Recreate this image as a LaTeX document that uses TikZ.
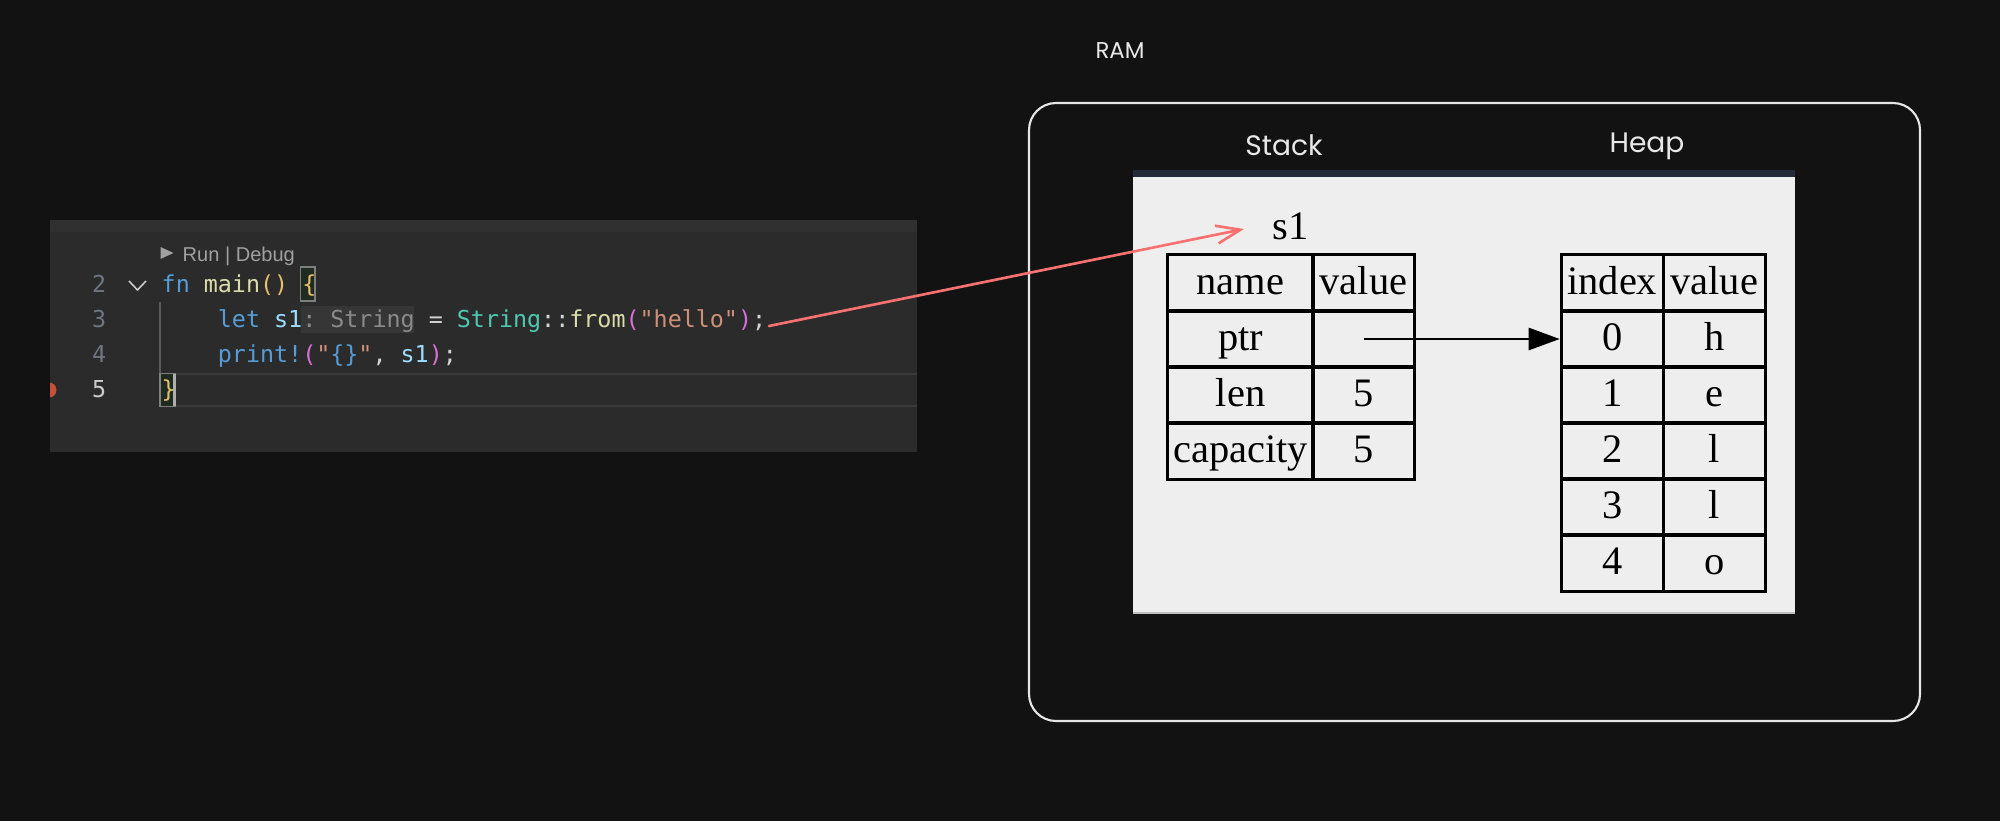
\documentclass[tikz,border=0pt]{standalone}
\usepackage{fontspec}
\setmainfont{Liberation Serif}
\newfontfamily\codefont{DejaVu Sans Mono}
\newfontfamily\uifont{Liberation Sans}
\newfontfamily\handfont{Poppins}
\usetikzlibrary{arrows.meta}
\definecolor{bg}{HTML}{121212}
\definecolor{panel}{HTML}{2B2B2B}
\definecolor{panelstrip}{HTML}{303030}
\definecolor{kw}{HTML}{569CD6}
\definecolor{fnc}{HTML}{DCDCAA}
\definecolor{brone}{HTML}{E6C06A}
\definecolor{brtwo}{HTML}{DA70D6}
\definecolor{var}{HTML}{9CDCFE}
\definecolor{hint}{HTML}{8A8A8A}
\definecolor{hintbg}{HTML}{363636}
\definecolor{op}{HTML}{D4D4D4}
\definecolor{ty}{HTML}{4EC9B0}
\definecolor{str}{HTML}{CE9178}
\definecolor{lnum}{HTML}{6E7681}
\definecolor{lnumcur}{HTML}{CCCCCC}
\definecolor{uigrey}{HTML}{A0A0A0}
\definecolor{curline}{HTML}{3A3A3A}
\definecolor{guide}{HTML}{5A5A5A}
\definecolor{bracebg}{HTML}{1F2B20}
\definecolor{braceline}{HTML}{7F7F7F}
\definecolor{cursorc}{HTML}{AEAFAD}
\definecolor{bpred}{HTML}{C8503A}
\definecolor{ramline}{HTML}{E6E6E6}
\definecolor{lightpanel}{HTML}{EEEEEE}
\definecolor{navybar}{HTML}{262A38}
\definecolor{redarr}{HTML}{F87171}
\definecolor{handtext}{HTML}{E8E8E8}
\begin{document}
\begin{tikzpicture}[x=0.01cm,y=-0.01cm,
  code/.style={inner sep=0pt, font={\codefont\fontsize{6.64pt}{8pt}\selectfont\frenchspacing}},
  uitext/.style={inner sep=0pt, font={\uifont\fontsize{5.7pt}{7pt}\selectfont}, text=uigrey},
  hand/.style={inner sep=0pt, font={\handfont\fontsize{8pt}{10pt}\selectfont}, text=handtext},
  cell/.style={draw=black, line width=0.85pt, inner sep=0pt, minimum height=0.56cm,
    font={\fontsize{11.5pt}{13pt}\selectfont}, text height=9.8pt, text depth=3.2pt, text=black},
  wide/.style={minimum width=1.45cm},
  narrow/.style={minimum width=1.01cm},
  hcol/.style={minimum width=1.02cm},
  bracebox/.style={fill=bracebg, draw=braceline, line width=0.4pt},
  redarrow/.style={draw=redarr, line width=0.75pt, line cap=round,
    -{Straight Barb[length=2.4mm, width=1.8mm, line width=0.75pt]}},
  ptrarrow/.style={draw=black, line width=0.75pt, -{Triangle[length=3.1mm, width=2.2mm]}}
]
\useasboundingbox (0,0) rectangle (2000,821);
\fill[bg] (0,0) rectangle (2000,821);

% ---------------- code editor ----------------
\fill[panel] (50,220) rectangle (917,452);
\fill[panelstrip] (50,220) rectangle (917,232);
\begin{scope}
  \clip (50,220) rectangle (917,452);
  \fill[bpred] (49,390) circle (7.5);
\end{scope}
% current line highlight (line 5)
\draw[curline, line width=0.57pt] (176,374) -- (917,374);
\draw[curline, line width=0.57pt] (176,406) -- (917,406);
% indent guide
\draw[guide, line width=0.6pt] (160,302) -- (160,373);
% fold chevron
\draw[lnumcur, line width=0.45pt, line join=round] (129,281) -- (137.5,290) -- (146,281);
% run | debug
\fill[uigrey] (160.5,247) -- (173.5,253) -- (160.5,259) -- cycle;
\node[uitext, anchor=base west] (rundebug) at (182,261) {Run | Debug};
% line numbers
\node[code, anchor=base east, text=lnum] (n2) at (107,292) {2};
\node[code, anchor=base east, text=lnum] (n3) at (107,327) {3};
\node[code, anchor=base east, text=lnum] (n4) at (107,362) {4};
\node[code, anchor=base east, text=lnumcur] (n5) at (107,397) {5};
% brace match boxes and inlay hint background
\draw[bracebox] (300.5,267) rectangle (315,301);
\draw[bracebox] (160,373.5) rectangle (175,406.5);
\fill[hintbg] (301,306) rectangle (414,333);
% code lines
\node[code, anchor=base west] (l2) at (161,292)
  {\textcolor{kw}{fn} \textcolor{fnc}{main}\textcolor{brone}{()} \textcolor{brone}{\{}};
\node[code, anchor=base west] (l3) at (217.2,327)
  {\textcolor{kw}{let} \textcolor{var}{s1}\textcolor{hint}{: String} \textcolor{op}{=} \textcolor{ty}{String}\textcolor{op}{::}\textcolor{fnc}{from}\textcolor{brtwo}{(}\textcolor{str}{"hello"}\textcolor{brtwo}{)}\textcolor{op}{;}};
\node[code, anchor=base west] (l4) at (217.2,362)
  {\textcolor{kw}{print!}\textcolor{brtwo}{(}\textcolor{str}{"}\textcolor{kw}{\{\}}\textcolor{str}{"}\textcolor{op}{,} \textcolor{var}{s1}\textcolor{brtwo}{)}\textcolor{op}{;}};
\node[code, anchor=base west] (l5) at (161,397) {\textcolor{brone}{\}}};
\fill[cursorc] (173,374) rectangle (176,406);

% ---------------- RAM ----------------
\node[hand, font={\handfont\fontsize{6.5pt}{8pt}\selectfont}] (ramlabel) at (1120,51) {RAM};
\draw[ramline, line width=0.6pt, rounded corners=0.27cm] (1029,103) rectangle (1920,721);
\node[hand] (stacklabel) at (1284,145) {Stack};
\node[hand] (heaplabel) at (1647,146) {Heap};
\fill[navybar] (1133,170) rectangle (1795,177);
\fill[lightpanel] (1133,177) rectangle (1795,613);
\draw[black!25, line width=0.3pt] (1133,613) -- (1795,613);

% s1 label
\node[inner sep=0pt, anchor=base, font={\fontsize{11.5pt}{13pt}\selectfont}] (s1) at (1290.5,239) {s1};

% stack table
\node[cell, wide]   (sname)  at (1240.5,283) {name};
\node[cell, narrow] (svalue) at (1363.5,283) {value};
\node[cell, wide]   (sptr)   at (1240.5,339) {ptr};
\node[cell, narrow] (sptrv)  at (1363.5,339) {};
\node[cell, wide]   (slen)   at (1240.5,395) {len};
\node[cell, narrow] (slenv)  at (1363.5,395) {5};
\node[cell, wide]   (scap)   at (1240.5,451) {capacity};
\node[cell, narrow] (scapv)  at (1363.5,451) {5};

% heap table
\node[cell, hcol] (hidx) at (1612.25,283) {index};
\node[cell, hcol] (hval) at (1714.25,283) {value};
\node[cell, hcol] (h0i) at (1612.25,339) {0};
\node[cell, hcol] (h0v) at (1714.25,339) {h};
\node[cell, hcol] (h1i) at (1612.25,395) {1};
\node[cell, hcol] (h1v) at (1714.25,395) {e};
\node[cell, hcol] (h2i) at (1612.25,451) {2};
\node[cell, hcol] (h2v) at (1714.25,451) {l};
\node[cell, hcol] (h3i) at (1612.25,507) {3};
\node[cell, hcol] (h3v) at (1714.25,507) {l};
\node[cell, hcol] (h4i) at (1612.25,563) {4};
\node[cell, hcol] (h4v) at (1714.25,563) {o};

% pointer arrow
\draw[ptrarrow] (sptrv.center) -- (h0i.west);

% red arrow from code to s1
\coordinate (codeend) at (769,326);
\coordinate (s1tip) at (1244,229);
\draw[redarrow] (codeend) -- (s1tip);
\end{tikzpicture}
\end{document}
